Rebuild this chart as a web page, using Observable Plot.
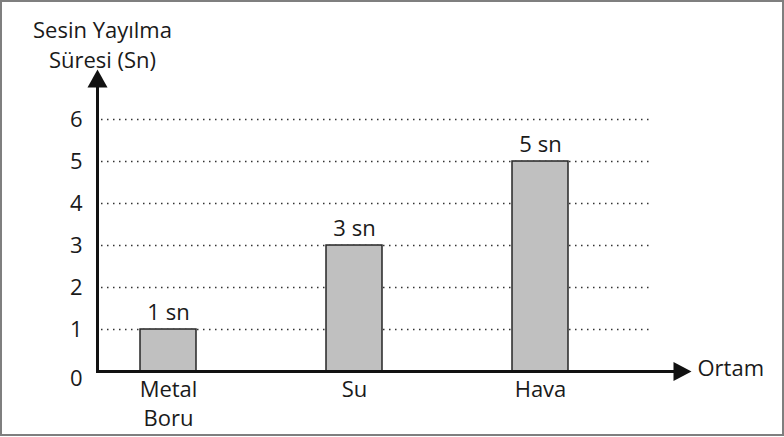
<!DOCTYPE html>
<html>
<head>
<meta charset="utf-8">
<script src="https://cdn.jsdelivr.net/npm/d3@7"></script>
<script src="https://cdn.jsdelivr.net/npm/@observablehq/plot@0.6"></script>
<style>
  html, body { margin: 0; padding: 0; background: #fff; }
  #wrap { position: relative; width: 784px; height: 437px; }
  #border { position: absolute; left: 0; top: 0; width: 784px; height: 436px; box-sizing: border-box; border: 2px solid #7f7f7f; pointer-events: none; }
  svg { display: block; }
</style>
</head>
<body>
<div id="wrap"><div id="border"></div></div>
<script>
const categories = ["Metal Boru", "Su", "Hava"];
const tickLabels = ["Metal\nBoru", "Su", "Hava"];
const values = [1, 3, 5];
const barLabels = ["1 sn", "3 sn", "5 sn"];
const yTicks = [1, 2, 3, 4, 5, 6];
const yTitleLines = ["Sesin Yayılma", "Süresi (Sn)"];
const xTitle = "Ortam";

const data = categories.map((c, i) => ({cat: c, value: values[i], label: barLabels[i], tick: tickLabels[i]}));

const FONT = "'Open Sans', sans-serif";
const FS = 22;
const INK = "#1a1a1a";
const upHead = {draw(ctx) { ctx.moveTo(0, -10); ctx.lineTo(10, 8); ctx.lineTo(-10, 8); ctx.closePath(); }};
const rightHead = {draw(ctx) { ctx.moveTo(10, 0); ctx.lineTo(-8, 9.5); ctx.lineTo(-8, -9.5); ctx.closePath(); }};

const chart = Plot.plot({
  width: 784,
  height: 437,
  marginLeft: 97,
  marginRight: 104,
  marginTop: 77,
  marginBottom: 66,
  style: {fontFamily: FONT, fontSize: FS + "px", color: INK, background: "transparent"},
  x: {type: "band", domain: categories, range: [75, 633], padding: 0, axis: null},
  y: {domain: [0, 7], axis: null},
  marks: [
    Plot.ruleY(yTicks, {stroke: "#333", strokeWidth: 1.5, strokeDasharray: "1.5,4.5", insetLeft: 4, insetRight: 30}),
    Plot.barY(data, {x: "cat", y: "value", fill: "#c0c0c0", stroke: "#262626", strokeWidth: 1.5, insetLeft: 65, insetRight: 65}),
    Plot.text(data, {x: "cat", y: "value", text: "label", dy: -17, fontSize: FS, fill: INK}),
    Plot.text(data, {x: "cat", text: "tick", frameAnchor: "bottom", lineAnchor: "top", dy: 5, lineHeight: 1.32, fontSize: FS, fill: INK}),
    Plot.text(yTicks, {y: d => d, text: d => String(d), frameAnchor: "left", textAnchor: "end", dx: -15, fontSize: FS, fill: INK}),
    Plot.text([0], {y: d => d, text: d => String(d), frameAnchor: "left", textAnchor: "end", dx: -15, dy: 7, fontSize: FS, fill: INK}),
    Plot.frame({anchor: "left", stroke: "#111", strokeWidth: 3}),
    Plot.ruleY([0], {stroke: "#111", strokeWidth: 3}),
    Plot.dot([0], {frameAnchor: "top-left", symbol: upHead, r: 10, fill: "#111", stroke: "none", dy: 2}),
    Plot.dot([0], {frameAnchor: "bottom-right", symbol: rightHead, r: 10, fill: "#111", stroke: "none", dx: 1}),
    Plot.text([xTitle], {frameAnchor: "bottom-right", textAnchor: "start", dx: 17, dy: 4, fontSize: FS, fill: INK}),
    Plot.text([yTitleLines[0]], {frameAnchor: "top-left", textAnchor: "middle", dx: 5, dy: -55, fontSize: FS, fill: INK}),
    Plot.text([yTitleLines[1]], {frameAnchor: "top-left", textAnchor: "middle", dx: 5, dy: -25, fontSize: FS, fill: INK})
  ]
});
document.getElementById("wrap").prepend(chart);
</script>
</body>
</html>
